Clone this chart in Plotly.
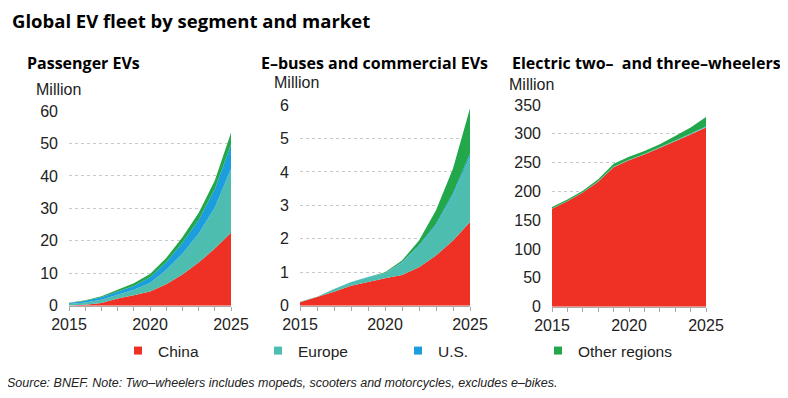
import plotly.graph_objects as go

OFF = 8             # page body margin in the browser
W, H = 788 - OFF, 398 - OFF

years = list(range(2015, 2026))

# Passenger EVs (million)
p_china = [0.1, 0.3, 0.8, 2.2, 3.2, 4.4, 6.6, 9.6, 13.3, 17.6, 22.5]
p_europe = [0.4, 0.7, 1.0, 1.1, 1.7, 2.6, 4.4, 6.4, 8.9, 12.7, 19.7]
p_us = [0.3, 0.5, 0.8, 1.1, 1.2, 1.8, 2.4, 3.4, 4.2, 5.7, 7.5]
p_other = [0.1, 0.2, 0.3, 0.5, 0.8, 1.0, 1.3, 1.7, 2.2, 2.6, 3.6]

# E-buses and commercial EVs (million)
b_china = [0.1, 0.25, 0.42, 0.6, 0.72, 0.82, 0.92, 1.15, 1.5, 1.95, 2.5]
b_europe = [0.02, 0.02, 0.08, 0.1, 0.13, 0.15, 0.36, 0.63, 0.9, 1.35, 1.95]
b_us = [0.0, 0.0, 0.0, 0.01, 0.01, 0.01, 0.02, 0.03, 0.05, 0.06, 0.1]
b_other = [0.0, 0.0, 0.0, 0.0, 0.0, 0.02, 0.05, 0.14, 0.4, 0.74, 1.35]

# Electric two- and three-wheelers (million)
w_china = [170, 183, 198, 217, 242, 254, 264, 275, 287, 299, 311]
w_europe = [0.5, 0.5, 0.6, 0.7, 0.8, 0.9, 1.0, 1.1, 1.2, 1.3, 1.4]
w_us = [0.1, 0.1, 0.1, 0.1, 0.1, 0.1, 0.1, 0.1, 0.1, 0.1, 0.1]
w_other = [2.4, 2.4, 2.3, 3.2, 5.1, 5.0, 4.9, 5.8, 7.7, 10.6, 16.5]

regions = ["China", "Europe", "U.S.", "Other regions"]
colors = ["#EE3124", "#4DBDB0", "#1B9DDE", "#22A84B"]

panels = [
    ("Passenger EVs", [p_china, p_europe, p_us, p_other], [0, 60], 10),
    ("E\u2013buses and commercial EVs", [b_china, b_europe, b_us, b_other], [0, 6], 1),
    ("Electric two\u2013  and three\u2013wheelers", [w_china, w_europe, w_us, w_other], [0, 350], 50),
]

# pixel geometry (page pixels -> paper fractions)
def px(x):
    return (x - OFF) / W

def py(y):
    return 1 - (y - OFF) / H

xdom = [(69, 231), (300, 470), (552, 706)]
ydom = [(305.7, 111), (305.7, 105), (306.7, 105)]

fig = go.Figure()
tickfont = dict(family="Liberation Sans, Arial, sans-serif", size=16, color="#222222")

for i, (name, series, yr, dt) in enumerate(panels):
    ax = "" if i == 0 else str(i + 1)
    for j, (reg, vals) in enumerate(zip(regions, series)):
        fig.add_trace(go.Scatter(
            x=years, y=vals, name=reg, mode="lines",
            line=dict(width=0, color=colors[j]),
            fillcolor=colors[j], stackgroup="s%d" % i,
            showlegend=False, legendgroup=reg,
            xaxis="x" + ax, yaxis="y" + ax, hoverinfo="x+y+name",
        ))
    fig.layout["xaxis" + ax] = dict(
        domain=[px(xdom[i][0]), px(xdom[i][1])], range=[2015, 2025],
        anchor="y" + ax, tickvals=[2015, 2020, 2025], ticktext=["2015", "2020", "2025"],
        ticks="outside", ticklen=4, tickcolor="#AAAAAA",
        minor=dict(dtick=1, tick0=2015, ticks="outside", ticklen=4, tickcolor="#AAAAAA", showgrid=False),
        showline=True, linecolor="#AAAAAA", linewidth=1, showgrid=False, zeroline=False,
        tickfont=tickfont, fixedrange=True,
    )
    fig.layout["yaxis" + ax] = dict(
        domain=[py(ydom[i][0]), py(ydom[i][1])], range=yr, dtick=dt, tick0=0,
        anchor="x" + ax, showgrid=True, gridcolor="#C8C8C8", griddash="dot", gridwidth=1,
        zeroline=False, showline=False, ticks="", ticklabelstandoff=10,
        tickfont=tickfont, fixedrange=True,
    )

# legend entries (small square keys, as in the original)
for reg, col in zip(regions, colors):
    fig.add_trace(go.Scatter(
        x=[None], y=[None], name=reg, mode="markers",
        marker=dict(symbol="square", size=8, color=col),
        legendgroup=reg, showlegend=True, hoverinfo="skip",
    ))

annos = []
annos.append(dict(text="<b>Global EV fleet by segment and market</b>", x=px(10), y=py(20),
                  font=dict(family="Open Sans, Lato, sans-serif", size=18.5, color="#000000")))
sub_pos = [(25, 63), (259, 63), (510, 63)]
for (name, _, _, _), (sx, sy) in zip(panels, sub_pos):
    annos.append(dict(text="<b>%s</b>" % name, x=px(sx), y=py(sy),
                      font=dict(family="Open Sans, Lato, sans-serif", size=16, color="#000000")))
mil_pos = [(34, 89), (272, 82), (507, 85)]
for (mx, my) in mil_pos:
    annos.append(dict(text="Million", x=px(mx), y=py(my),
                      font=dict(family="Liberation Sans, Arial, sans-serif", size=16, color="#222222")))
annos.append(dict(text="<i>Source: BNEF. Note: Two\u2013wheelers includes mopeds, scooters and motorcycles, excludes e\u2013bikes.</i>",
                  x=px(5), y=py(383),
                  font=dict(family="Liberation Sans, Arial, sans-serif", size=12.5, color="#222222")))
for a in annos:
    a.update(xref="paper", yref="paper", xanchor="left", yanchor="middle", showarrow=False)

fig.update_layout(
    width=W, height=H, margin=dict(l=0, r=0, t=0, b=0, autoexpand=False),
    paper_bgcolor="white", plot_bgcolor="white",
    annotations=annos,
    legend=dict(orientation="h", x=px(118), y=py(351), xanchor="left", yanchor="middle",
                entrywidth=140 / W, entrywidthmode="fraction", traceorder="normal",
                font=dict(family="Liberation Sans, Arial, sans-serif", size=15.5, color="#222222"),
                bgcolor="rgba(0,0,0,0)"),
    showlegend=True,
)

fig.write_html("out.html")
